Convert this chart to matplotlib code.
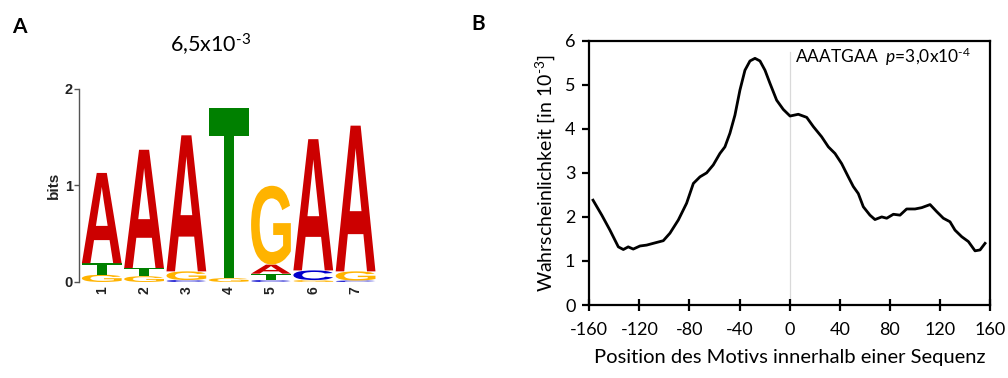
import numpy as np
import matplotlib
matplotlib.use("Agg")
import matplotlib.pyplot as plt
from matplotlib.textpath import TextPath
from matplotlib.patches import PathPatch
from matplotlib.font_manager import FontProperties
import matplotlib.transforms as mtransforms

plt.rcParams['font.family'] = ['Lato', 'DejaVu Sans']
plt.rcParams['mathtext.fontset'] = 'custom'
plt.rcParams['mathtext.rm'] = 'Lato'
plt.rcParams['mathtext.it'] = 'Lato:italic'

# ---- panel A: sequence logo (letter, bits) from bottom to top ----
positions = [1, 2, 3, 4, 5, 6, 7]
stack_1 = [('G', 0.075), ('T', 0.12), ('A', 0.935)]
stack_2 = [('G', 0.06), ('T', 0.085), ('A', 1.225)]
stack_3 = [('C', 0.02), ('G', 0.09), ('A', 1.41)]
stack_4 = [('G', 0.04), ('T', 1.76)]
stack_5 = [('C', 0.02), ('T', 0.066), ('A', 0.094), ('G', 0.817)]
stack_6 = [('G', 0.02), ('C', 0.10), ('A', 1.36)]
stack_7 = [('C', 0.015), ('G', 0.095), ('A', 1.51)]
stacks = [stack_1, stack_2, stack_3, stack_4, stack_5, stack_6, stack_7]
logo_title = r"6,5x10$^{\text{-3}}$"

letter_colors = {'A': '#cc0000', 'T': '#008000', 'G': '#ffb300', 'C': '#0000cc'}

# ---- panel B: probability along the sequence ----
pos_x = [-157, -150, -143.5, -136.8, -132.8, -128.9, -124.9, -119.5, -114.2, -107.6,
         -100.9, -95.6, -88.9, -82.3, -76.9, -71.6, -66.3, -61.0, -55.7, -51.7,
         -47.7, -43.7, -39.7, -35.7, -31.7, -27.7, -23.7, -19.7, -15.7, -10.4,
         -5.1, 0.3, 6.9, 13.6, 18.9, 25.5, 30.9, 36.2, 41.5, 46.8,
         50.8, 54.8, 58.8, 64.1, 68.1, 73.5, 77.5, 82.8, 88.1, 93.4,
         100.1, 105.4, 112.1, 117.4, 122.7, 128.0, 132.0, 137.4, 142.7, 148.0,
         152.0, 156.0]
prob = [2.38, 2.04, 1.70, 1.32, 1.26, 1.32, 1.27, 1.34, 1.36, 1.41,
        1.46, 1.63, 1.93, 2.31, 2.76, 2.91, 3.00, 3.18, 3.44, 3.59,
        3.90, 4.31, 4.88, 5.33, 5.54, 5.60, 5.54, 5.33, 5.03, 4.65,
        4.44, 4.29, 4.33, 4.26, 4.05, 3.82, 3.59, 3.44, 3.21, 2.91,
        2.69, 2.53, 2.23, 2.04, 1.94, 2.00, 1.97, 2.06, 2.04, 2.18,
        2.18, 2.21, 2.28, 2.12, 1.97, 1.89, 1.70, 1.55, 1.44, 1.23,
        1.25, 1.40]
x_ticks = [-160, -120, -80, -40, 0, 40, 80, 120, 160]
y_ticks = [0, 1, 2, 3, 4, 5, 6]
motif_label = r"AAATGAA  $\mathit{p}$=3,0x10$^{\text{-4}}$"

fig = plt.figure(figsize=(10.08, 3.78), dpi=100)

# ---------- A ----------
axA = fig.add_axes([0.0787, 0.254, 0.2963, 0.5106])
logo_font = FontProperties(family='Liberation Sans', weight='bold')


def draw_letter(ax, letter, x, y0, h, width=0.94):
    tp = TextPath((0, 0), letter, size=1, prop=logo_font)
    bb = tp.get_extents()
    t = (mtransforms.Affine2D().translate(-bb.x0, -bb.y0)
         .scale(width / bb.width, h / bb.height)
         .translate(x - width / 2, y0))
    ax.add_patch(PathPatch(t.transform_path(tp), fc=letter_colors[letter], ec='none'))


for x, stack in zip(positions, stacks):
    y0 = 0
    for letter, h in stack:
        draw_letter(axA, letter, x, y0, h)
        y0 += h

axA.set_xlim(0.47, 7.53)
axA.set_ylim(0, 2)
for s in ['top', 'right', 'bottom']:
    axA.spines[s].set_visible(False)
axA.spines['left'].set_color('#555555')
axA.spines['left'].set_linewidth(1.0)
axA.set_yticks([0, 1, 2])
axA.set_yticklabels(['0', '1', '2'], family='Liberation Sans', fontsize=10.5, fontweight='bold',
                    color='#222222')
axA.tick_params(axis='y', length=3.5, width=1, color='#555555', pad=1)
axA.set_xticks(positions)
axA.set_xticklabels([str(p) for p in positions], rotation=90, family='Liberation Sans',
                    fontsize=10, fontweight='bold', color='#222222')
axA.tick_params(axis='x', length=0, pad=3)
axA.set_ylabel('bits', family='Liberation Sans', fontsize=11, fontweight='bold',
               color='#222222', labelpad=3)

fig.text(0.209, 1 - 53 / 378, logo_title, ha='center', va='baseline', fontsize=15.5)
fig.text(0.012, 1 - 33 / 378, 'A', fontsize=15, fontweight='bold', va='baseline')

# ---------- B ----------
axB = fig.add_axes([0.5846, 0.1931, 0.3976, 0.6992])
axB.plot([0, 0], [0, 5.75], color='#d9d9d9', lw=0.9, zorder=1)
axB.plot(pos_x, prob, color='black', lw=2.0, zorder=2)
axB.set_xlim(-160, 160)
axB.set_ylim(0, 6)
axB.set_xticks(x_ticks)
axB.set_xticklabels([str(t) for t in x_ticks], fontsize=13)
axB.set_yticks(y_ticks)
axB.set_yticklabels([str(t) for t in y_ticks], fontsize=13)
for s in axB.spines.values():
    s.set_linewidth(1.6)
axB.tick_params(axis='x', direction='inout', length=9, width=1.6, pad=8)
axB.tick_params(axis='y', direction='out', length=5, width=1.6, pad=5)
axB.set_xlabel('Position des Motivs innerhalb einer Sequenz', fontsize=14.5, labelpad=8)
axB.set_ylabel(r'Wahrscheinlichkeit [in 10$^{\text{-3}}$]', fontsize=14, labelpad=6)
axB.text(4, 5.49, motif_label, ha='left', va='baseline', fontsize=12.5)
fig.text(0.468, 1 - 30 / 378, 'B', fontsize=15, fontweight='bold', va='baseline')

fig.savefig('out.png', dpi=100)
